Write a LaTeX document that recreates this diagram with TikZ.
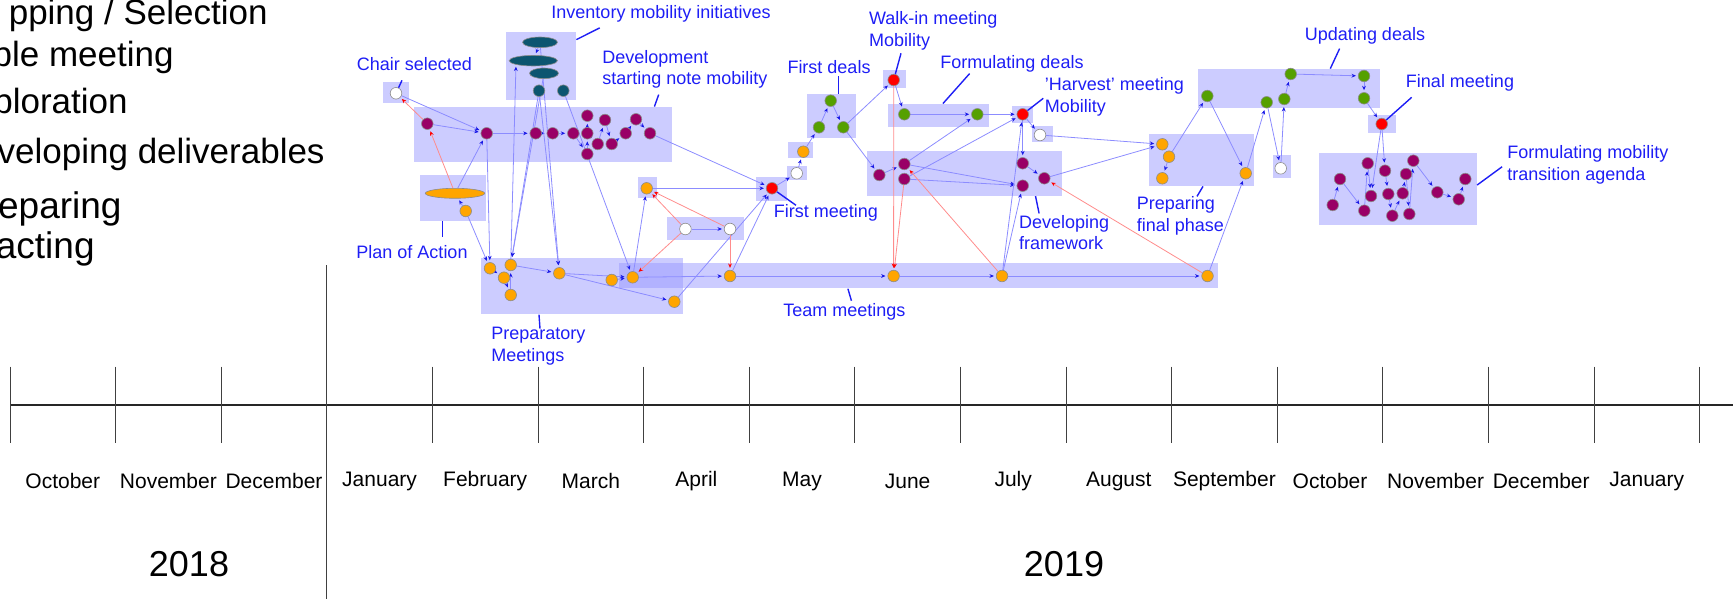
\documentclass[tikz,border=0pt]{standalone}
\usepackage{fontspec}
\setmainfont{Liberation Sans}
\usetikzlibrary{shapes.geometric, arrows.meta, fit}

\definecolor{boxblue}{RGB}{153,153,255}
\definecolor{linkblue}{RGB}{140,140,255}
\definecolor{tipblue}{RGB}{25,25,230}
\definecolor{linkred}{RGB}{255,140,140}
\definecolor{labelblue}{RGB}{30,30,245}
\definecolor{plum}{RGB}{153,0,102}
\definecolor{amber}{RGB}{255,165,0}
\definecolor{leaf}{RGB}{85,160,0}
\definecolor{petrol}{RGB}{12,85,112}
\definecolor{alarm}{RGB}{255,0,0}

\pgfdeclarelayer{boxes}
\pgfdeclarelayer{links}
\pgfsetlayers{boxes,links,main}

\begin{document}
\begin{tikzpicture}[x=0.5pt, y=-0.5pt,
    dot/.style={circle, draw=black!45, line width=0.3pt, inner sep=0pt, minimum size=5.8pt},
    plum node/.style={dot, fill=plum},
    amber node/.style={dot, fill=amber},
    leaf node/.style={dot, fill=leaf},
    petrol node/.style={dot, fill=petrol},
    alarm node/.style={dot, fill=alarm},
    blank node/.style={dot, fill=white},
    egg/.style={ellipse, draw=black!45, line width=0.3pt, inner sep=0pt, minimum height=5.3pt},
    box/.style={rectangle, draw=none, inner sep=0pt, fill=boxblue, fill opacity=0.5},
    link/.style={draw=linkblue, line width=0.4pt, shorten >=1pt, -{Stealth[length=2.2pt, width=1.9pt, color=tipblue]}},
    red link/.style={draw=linkred, line width=0.4pt, shorten >=1pt, -{Stealth[length=2.2pt, width=1.9pt, color=alarm]}},
    tag/.style={text=labelblue, font=\fontsize{9}{10.8}\selectfont, inner sep=0pt, align=left},
    leader/.style={draw=labelblue, line width=0.7pt},
    phase/.style={font=\fontsize{17.5}{20}\selectfont, inner sep=0pt, anchor=base east},
    month/.style={font=\fontsize{10.5}{12}\selectfont, inner sep=0pt},
    year/.style={font=\fontsize{18}{20}\selectfont, inner sep=0pt},
    tick/.style={draw=black!75, line width=0.5pt},
    axis/.style={draw=black!85, line width=0.9pt}]

    \useasboundingbox (0,0) rectangle (1733,599);

    % phases on the left
    \node[phase] (ph1) at (268,25) {pping / Selection};
    \node[phase] (ph2) at (174,66.7) {ble meeting};
    \node[phase] (ph3) at (128,113) {ploration};
    \node[phase] (ph4) at (325,163) {veloping deliverables};
    \node[phase, font=\fontsize{18.5}{20}\selectfont] (ph5) at (122,218) {eparing};
    \node[phase, font=\fontsize{18.5}{20}\selectfont] (ph6) at (95,258) {acting};

    % boxes
    \begin{pgfonlayer}{boxes}
        \node[box, fit={(383,82) (409,103)}] (chair box) {};
        \node[box, fit={(414,107) (672,162)}] (dev box) {};
        \node[box, fit={(506,32) (576,100)}] (inv box) {};
        \node[box, fit={(420,175) (486,221)}] (plan box) {};
        \node[box, fit={(480.7,257.7) (683.3,314.3)}] (prep box) {};
        \node[box, fit={(619.3,262.7) (1217.5,288.3)}] (team box) {};
        \node[box, fit={(638.3,177.3) (656.7,198.3)}] (qs box) {};
        \node[box, fit={(666.7,216.7) (743.6,240)}] (blank box) {};
        \node[box, fit={(756,176.7) (787,200.7)}] (first box) {};
        \node[box, fit={(787.3,165.7) (807.3,180)}] (w3 box) {};
        \node[box, fit={(788.3,141.7) (813.3,158.3)}] (ob box) {};
        \node[box, fit={(807.3,94.3) (855.7,137.7)}] (fd box) {};
        \node[box, fit={(883.3,70) (906,88.3)}] (walk box) {};
        \node[box, fit={(888.3,104) (989.3,126.7)}] (deal box) {};
        \node[box, fit={(1012.3,106) (1032.7,122.7)}] (harv box) {};
        \node[box, fit={(1032.3,126) (1052.7,142.3)}] (w4 box) {};
        \node[box, fit={(866.7,151) (1062.3,195.7)}] (frame box) {};
        \node[box, fit={(1149.3,134) (1254.3,186)}] (fin box) {};
        \node[box, fit={(1198.3,69) (1380,108.3)}] (upd box) {};
        \node[box, fit={(1272.7,155) (1290.7,178.3)}] (w5 box) {};
        \node[box, fit={(1368.3,115) (1396,133.3)}] (final box) {};
        \node[box, fit={(1319,152.7) (1476.7,225)}] (agenda box) {};
    \end{pgfonlayer}

    % chair and development note
    \node[blank node] (chair) at (396,93.3) {};
    \node[plum node] (p1) at (427.3,123.7) {};
    \node[plum node] (p2) at (486.7,133.3) {};
    \node[plum node] (p3) at (535.7,133.3) {};
    \node[plum node] (p4) at (552.7,133.3) {};
    \node[plum node] (p5) at (573.3,133.3) {};
    \node[plum node] (p6) at (587.3,115.7) {};
    \node[plum node] (p7) at (587.3,133.3) {};
    \node[plum node] (p8) at (587.3,154) {};
    \node[plum node] (p9) at (597.7,144) {};
    \node[plum node] (p10) at (605,120) {};
    \node[plum node] (p11) at (611.7,144) {};
    \node[plum node] (p12) at (625.7,133.3) {};
    \node[plum node] (p13) at (636,119.3) {};
    \node[plum node] (p14) at (650,133.3) {};

    % inventory
    \node[egg, fill=petrol, minimum width=17.5pt] (inv1) at (540,42.3) {};
    \node[egg, fill=petrol, minimum width=24.2pt] (inv2) at (533.3,60.7) {};
    \node[egg, fill=petrol, minimum width=14.5pt] (inv3) at (544,73.3) {};
    \node[petrol node] (inv4) at (539,90.7) {};
    \node[petrol node] (inv5) at (563.3,90.7) {};

    % plan of action
    \node[egg, fill=amber, minimum width=29.7pt, minimum height=5pt] (plan) at (455,193.3) {};
    \node[amber node] (pl) at (465.7,211) {};

    % preparatory meetings
    \node[amber node] (q1) at (490,268.3) {};
    \node[amber node] (q2) at (510.7,265) {};
    \node[amber node] (q3) at (504,277.7) {};
    \node[amber node] (q4) at (510.7,295) {};
    \node[amber node] (q5) at (559.3,273.3) {};
    \node[amber node] (q6) at (611.7,280) {};
    \node[amber node] (q7) at (632.7,277.3) {};
    \node[amber node] (q8) at (674.3,301.7) {};
    \node[amber node] (qs) at (646.7,188.3) {};
    \node[blank node] (w1) at (685.4,229) {};
    \node[blank node] (w2) at (730,229) {};

    % team meetings
    \node[amber node] (r1) at (730,276) {};
    \node[amber node] (r2) at (893.6,276) {};
    \node[amber node] (r3) at (1002,276) {};
    \node[amber node] (r4) at (1207.5,276) {};

    % first meeting up to the deals
    \node[alarm node] (first) at (772,188.3) {};
    \node[blank node] (w3) at (796.7,173.3) {};
    \node[amber node] (ob) at (803.3,151.7) {};
    \node[leaf node] (g1) at (819,127.3) {};
    \node[leaf node] (g2) at (830.7,100.7) {};
    \node[leaf node] (g3) at (843.3,127.3) {};
    \node[alarm node] (walk) at (893.7,80) {};
    \node[leaf node] (g4) at (904.3,114.3) {};
    \node[leaf node] (g5) at (977.3,114.3) {};
    \node[alarm node] (harv) at (1022.7,114.3) {};
    \node[blank node] (w4) at (1040,135) {};

    % developing framework
    \node[plum node] (d1) at (879.3,175) {};
    \node[plum node] (d2) at (904.3,164) {};
    \node[plum node] (d3) at (904.3,179) {};
    \node[plum node] (d4) at (1022.7,163.3) {};
    \node[plum node] (d5) at (1044.3,178.3) {};
    \node[plum node] (d6) at (1022.7,185.7) {};

    % final phase and updating deals
    \node[amber node] (f1) at (1162.3,144.3) {};
    \node[amber node] (f2) at (1169,156.7) {};
    \node[amber node] (f3) at (1162.3,178.3) {};
    \node[amber node] (f4) at (1245.7,173.3) {};
    \node[leaf node] (u1) at (1207.3,96) {};
    \node[leaf node] (u2) at (1266.7,102.3) {};
    \node[leaf node] (u3) at (1284.3,99) {};
    \node[leaf node] (u4) at (1290.7,74) {};
    \node[leaf node] (u5) at (1364,76) {};
    \node[leaf node] (u6) at (1364,98.3) {};
    \node[blank node] (w5) at (1280.7,168.3) {};
    \node[alarm node] (final) at (1381.7,124) {};

    % transition agenda
    \node[plum node] (k1) at (1332.7,205) {};
    \node[plum node] (k2) at (1340,179) {};
    \node[plum node] (k3) at (1364.3,210.7) {};
    \node[plum node] (k4) at (1367.7,163.3) {};
    \node[plum node] (k5) at (1371,196) {};
    \node[plum node] (k6) at (1385,170.7) {};
    \node[plum node] (k7) at (1388.3,194) {};
    \node[plum node] (k8) at (1392.3,215.7) {};
    \node[plum node] (k9) at (1402.7,193.3) {};
    \node[plum node] (k10) at (1406,174) {};
    \node[plum node] (k11) at (1409.3,214) {};
    \node[plum node] (k12) at (1413.3,160.7) {};
    \node[plum node] (k13) at (1437.3,192.3) {};
    \node[plum node] (k14) at (1458.7,199.3) {};
    \node[plum node] (k15) at (1465.3,179) {};

    \begin{pgfonlayer}{links}
    \path[link]
        (chair) edge (p2)
        (p1) edge (p2)
        (plan) edge (p2)
        (p2) edge (p3)
        (p3) edge (p4)
        (p4) edge (p5)
        (p5) edge (p8)
        (p8) edge (p7)
        (p7) edge (p6)
        (p7) edge (p9)
        (p9) edge (p10)
        (p10) edge (p11)
        (p11) edge (p12)
        (p12) edge (p13)
        (p13) edge (p14)
        (p14) edge (first)
        (inv1) edge (inv2)
        (pl) edge (plan)
        (pl) edge (q1)
        (p2) edge (q1)
        (q1) edge (q3)
        (q3) edge (q4)
        (q4) edge (q2)
        (q2) edge (q5)
        (q5) edge (q7)
        (q6) edge (q7)
        (q5) edge (q8)
        (q7) edge (r1)
        (q7) edge (qs)
        (q2) edge (inv2.south west)
        (inv4) edge (q2)
        (inv3) edge (q2)
        (inv4) edge (q5)
        (inv1) edge (q5)
        (inv5) edge (q7)
        (qs) edge (first)
        (w1) edge (w2)
        (r1) edge (r2)
        (r2) edge (r3)
        (r3) edge (r4)
        (q8) edge (first)
        (r1) edge (first)
        (first) edge (w3)
        (w3) edge (ob)
        (ob) edge (g1)
        (g1) edge (g2)
        (g2) edge (g3)
        (g3) edge (walk)
        (g3) edge (d1)
        (walk) edge (g4)
        (g4) edge (g5)
        (g5) edge (harv)
        (harv) edge (w4)
        (harv) edge (d4)
        (d1) edge (d2)
        (d2) edge (d6)
        (d3) edge (d6)
        (d2) edge (g5)
        (d3) edge (harv)
        (d4) edge (d5)
        (r3) edge (d6)
        (r3) edge (harv)
        (w4) edge (f1)
        (d5) edge (f1)
        (f1) edge (f2)
        (f2) edge (f3)
        (f2) edge (u1)
        (u1) edge (f4)
        (r4) edge (f4)
        (f4) edge (u2)
        (u2) edge (w5)
        (w5) edge (u3)
        (u3) edge (u4)
        (u4) edge (u5)
        (u5) edge (u6)
        (u6) edge (final)
        (final) edge (k5)
        (final) edge (k6)
        (k1) edge (k2)
        (k2) edge (k3)
        (k3) edge (k4)
        (k4) edge (k5)
        (k6) edge (k7)
        (k7) edge (k8)
        (k8) edge (k9)
        (k9) edge (k10)
        (k10) edge (k11)
        (k11) edge (k12)
        (k12) edge (k13)
        (k13) edge (k14)
        (k14) edge (k15);

    \path[red link]
        (plan) edge (p1)
        (p1) edge (chair)
        (w1) edge (qs)
        (w2) edge (qs)
        (w1) edge (q7)
        (w2) edge (r1)
        (walk) edge (r2)
        (d3) edge (r2)
        (r3) edge (d2)
        (r4) edge (d5);
    \end{pgfonlayer}

    % labels
    \node[tag] (inv label) at (661,14) {Inventory mobility initiatives};
    \node[tag] (chair label) at (414.5,64) {Chair selected};
    \node[tag, anchor=west] (dev label) at (602,69.3) {Development\\starting note mobility};
    \node[tag] (fd label) at (829,66.7) {First deals};
    \node[tag, anchor=west] (walk label) at (868.7,31) {Walk-in meeting\\Mobility};
    \node[tag] (deal label) at (1012,64) {Formulating deals};
    \node[tag, anchor=west] (harv label) at (1044.5,97) {'Harvest' meeting\\Mobility};
    \node[tag] (upd label) at (1365,36) {Updating deals};
    \node[tag] (final label) at (1460,83) {Final meeting};
    \node[tag] (first label) at (826,213) {First meeting};
    \node[tag] (plan label) at (412,251.7) {Plan of Action};
    \node[tag, anchor=west] (prep label) at (491,346.4) {Preparatory\\Meetings};
    \node[tag] (team label) at (844.3,311.7) {Team meetings};
    \node[tag, anchor=west] (frame label) at (1018.6,232.5) {Developing\\framework};
    \node[tag, anchor=west] (fin label) at (1136.4,216) {Preparing\\final phase};
    \node[tag, anchor=west] (agenda label) at (1507,165) {Formulating mobility\\transition agenda};

    \draw[leader] (inv box.north east) ++(0,8) -- ++(23.3,-11.7);
    \draw[leader] (chair) -- ++(6,-13);
    \draw[leader] (dev box.north east) ++(-18,0) -- ++(4.3,-12);
    \draw[leader] (fd box.north) ++(7,0) -- ++(0,-17.6);
    \draw[leader] (walk) -- ++(7.3,-26.7);
    \draw[leader] (deal box.north west) ++(55,0) -- ++(26.7,-30);
    \draw[leader] (harv) -- ++(20.6,-16);
    \draw[leader] (upd box.north west) ++(132.4,0) -- ++(9.3,-20);
    \draw[leader] (final) -- ++(30,-26.7);
    \draw[leader] (first) -- ++(24,17);
    \draw[leader] (plan box.south) ++(-10.7,0) -- ++(0,16);
    \draw[leader] (prep box.south) ++(-43,0) -- ++(1,14);
    \draw[leader] (team box.south) ++(-70.5,0) -- ++(3.5,12);
    \draw[leader] (frame box.south) ++(71,0) -- ++(3.6,17.3);
    \draw[leader] (fin box.south) ++(1.2,0) -- ++(-6,10);
    \draw[leader] (agenda box.east) ++(0,-3.8) -- ++(25,-18.3);

    % time line
    \draw[axis] (10,405) -- (1733,405);
    \foreach \i in {0,1,2,4,5,...,16}
        \draw[tick] ({10+105.6*\i},366.7) -- ++(0,76.3);
    \draw[tick] (326.8,265) -- (326.8,599);
    \foreach \m [count=\i from 0] in {October,November,December,January,February,March,April,May,June,July,August,September,October,November,December,January}
        \node[month] (mo\i) at ({62.8+105.6*\i},481) {\m};
    \node[year] (y2018) at (189,564.3) {2018};
    \node[year] (y2019) at (1064,564.3) {2019};

\end{tikzpicture}
\end{document}
